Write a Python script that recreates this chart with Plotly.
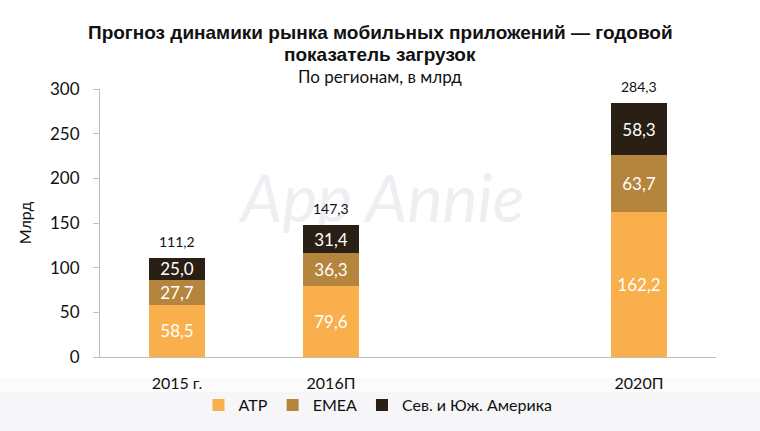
import plotly.graph_objects as go

categories = ["2015 г.", "2016П", "2020П"]
x_pos = [0, 1, 3]
apt = [58.5, 79.6, 162.2]
emea = [27.7, 36.3, 63.7]
americas = [25.0, 31.4, 58.3]
totals = [111.2, 147.3, 284.3]
series_names = ["ATP", "EMEA", "Сев. и Юж. Америка"]
colors = ["#F9AF4B", "#B5843D", "#2A1F14"]

FONT = "Lato"
W, H = 760, 431
ML, MR, MT, MB = 100, 44, 89, 74
PH = H - MT - MB
PW = W - ML - MR


def py(pix):
    """pixel row -> paper y"""
    return (H - MB - pix) / PH


def px(pix):
    """pixel column -> paper x"""
    return (pix - ML) / PW


fig = go.Figure()

# faint background band at the bottom
fig.add_shape(type="rect", xref="paper", yref="paper", x0=-1, x1=2, y0=py(431), y1=py(392),
              fillcolor="#F6F6F8", line_width=0, layer="below")
fig.add_shape(type="rect", xref="paper", yref="paper", x0=-1, x1=2, y0=py(392), y1=py(378),
              fillcolor="#FBFBFC", line_width=0, layer="below")

# watermark, drawn beneath the bars
fig.add_shape(type="rect", xref="paper", yref="paper", x0=px(240), x1=px(525),
              y0=py(230), y1=py(160), line_width=0, fillcolor="rgba(0,0,0,0)", layer="below",
              label=dict(text="App Annie", textposition="middle center",
                         font=dict(size=66, color="#EEEFF2",
                                   family="Liberation Sans Narrow, " + FONT, style="italic")))

for name, vals, col in zip(series_names, [apt, emea, americas], colors):
    fig.add_trace(go.Bar(
        x=x_pos, y=vals, name=name, marker_color=col, marker_line_width=0,
        width=0.36, texttemplate="%{y:.1f}", textposition="inside",
        insidetextanchor="middle", textangle=0,
        textfont=dict(color="white", size=17, family=FONT),
    ))

for xv, t in zip(x_pos, totals):
    fig.add_annotation(x=xv, y=t, text=f"{t:.1f}".replace(".", ","), showarrow=False,
                       yanchor="bottom", yshift=6, font=dict(size=14, color="#111", family=FONT))

fig.add_annotation(text="<b>Прогноз динамики рынка мобильных приложений — годовой</b>",
                   x=px(380), y=py(32), xref="paper", yref="paper", showarrow=False, xanchor="center",
                   yanchor="middle", font=dict(family="Liberation Sans", size=19, color="#111"))
fig.add_annotation(text="<b>показатель загрузок</b>",
                   x=px(380), y=py(55), xref="paper", yref="paper", showarrow=False, xanchor="center",
                   yanchor="middle", font=dict(family="Liberation Sans", size=19, color="#111"))
fig.add_annotation(text="По регионам, в млрд",
                   x=px(380), y=py(76), xref="paper", yref="paper", showarrow=False, xanchor="center",
                   yanchor="middle", font=dict(family=FONT, size=17, color="#111"))

fig.update_layout(
    width=W, height=H,
    barmode="stack",
    separators=", ",
    paper_bgcolor="white", plot_bgcolor="rgba(0,0,0,0)",
    margin=dict(l=ML, r=MR, t=MT, b=MB, autoexpand=False),
    font=dict(family=FONT, color="#111", size=15),
    uniformtext=dict(minsize=17, mode="show"),
    xaxis=dict(
        range=[-0.5, 3.5], tickvals=x_pos, ticktext=categories,
        showline=True, linecolor="#BDBDBD", linewidth=1, ticks="",
        showgrid=False, zeroline=False, tickfont=dict(size=16), ticklabelstandoff=12,
    ),
    yaxis=dict(
        range=[0, 300], dtick=50, showline=True, linecolor="#BDBDBD", linewidth=1,
        ticks="outside", ticklen=6, tickcolor="#BDBDBD", showgrid=False, zeroline=False,
        title=dict(text="Млрд", standoff=14, font=dict(size=16)), tickfont=dict(size=17),
        ticklabelstandoff=10,
    ),
    legend=dict(orientation="h", x=px(378), xanchor="center", y=py(405), yanchor="middle",
                font=dict(size=16), bgcolor="rgba(0,0,0,0)", traceorder="normal",
                itemwidth=30),
    showlegend=True,
)

fig.write_html("out.html")
